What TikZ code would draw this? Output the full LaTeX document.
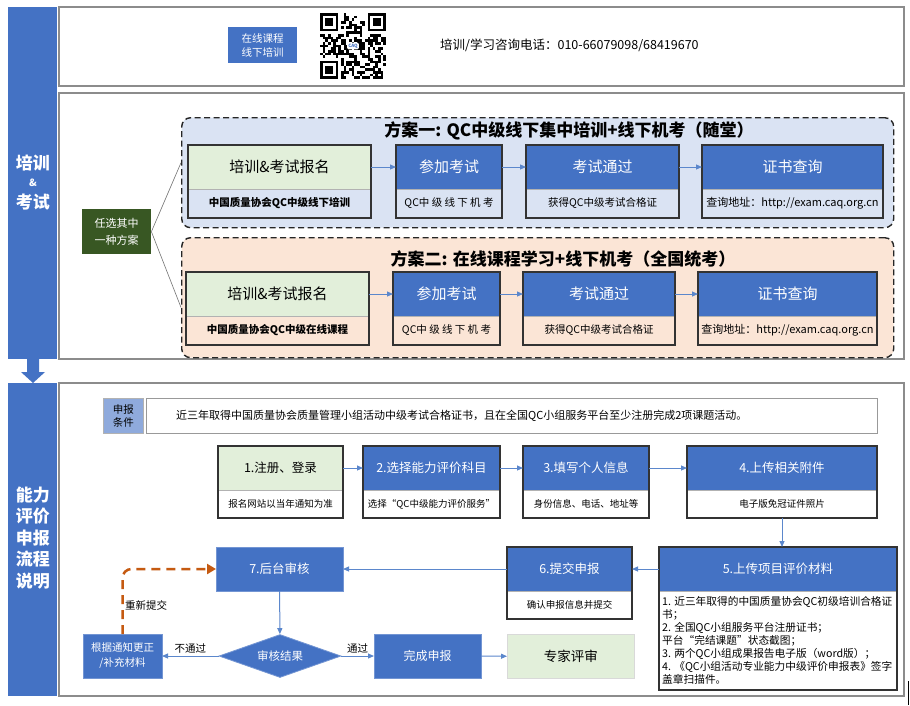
\documentclass[tikz,border=0pt]{standalone}
\usepackage{fontspec}
\setmainfont{Noto Sans CJK SC}
\usetikzlibrary{arrows.meta,shapes.geometric,calc}
\definecolor{qblue}{HTML}{4472C4}
\definecolor{flowblue}{HTML}{5B87CC}
\definecolor{lgreen}{HTML}{E2EFDA}
\definecolor{lblue}{HTML}{DAE3F3}
\definecolor{peach}{HTML}{FBE5D6}
\definecolor{dgreen}{HTML}{385723}
\definecolor{orng}{HTML}{C55A11}
\definecolor{condblue}{HTML}{8FAADC}
\definecolor{panelgray}{HTML}{8C8C8C}
\newcommand\twobox[9]{%
  \node[#6, minimum width=#3, minimum height=#4, anchor=north west] (#1) at #2 {#8};
  \node[#7, minimum width=#3, minimum height=#5, anchor=north west] (#1s) at (#1.south west) {#9};
  \draw[divline] (#1.south west) -- (#1.south east);
  \draw[boxline] (#1.north west) rectangle (#1s.south east);
}
\newcommand\wide[1]{{\addfontfeature{LetterSpace=22}#1}}
\tikzset{
  panel/.style={draw=panelgray, line width=1.2pt, fill=white, inner sep=0pt, outer sep=0pt, anchor=north west},
  bar/.style={fill=qblue, inner sep=0pt, outer sep=0pt, anchor=north west},
  bartxt/.style={text=white, font=\bfseries\fontsize{17}{21.5}\selectfont, align=center, inner sep=0pt},
  scheme/.style={draw=black!85, line width=1.4pt, dash pattern=on 6pt off 3.5pt, rounded corners=9pt, inner sep=0pt, anchor=north west},
  stitle/.style={font=\bfseries\fontsize{17}{19}\selectfont, inner sep=0pt},
  topG/.style={fill=lgreen, text=black, inner sep=0pt, outer sep=0pt, font=\fontsize{15}{17}\selectfont},
  topB/.style={fill=qblue, text=white, inner sep=0pt, outer sep=0pt, font=\fontsize{15}{17}\selectfont},
  subAb/.style={fill=lblue, inner sep=0pt, outer sep=0pt, font=\bfseries\fontsize{10.5}{12}\selectfont},
  subA/.style={fill=lblue, inner sep=0pt, outer sep=0pt, font=\fontsize{10.5}{12}\selectfont},
  subPb/.style={fill=peach, inner sep=0pt, outer sep=0pt, font=\bfseries\fontsize{10.5}{12}\selectfont},
  subP/.style={fill=peach, inner sep=0pt, outer sep=0pt, font=\fontsize{10.5}{12}\selectfont},
  stG/.style={fill=lgreen, text=black, inner sep=0pt, outer sep=0pt, font=\fontsize{12.5}{15}\selectfont},
  stB/.style={fill=qblue, text=white, inner sep=0pt, outer sep=0pt, font=\fontsize{12.5}{15}\selectfont},
  stW/.style={fill=white, text=black, inner sep=0pt, outer sep=0pt, font=\fontsize{9.5}{11}\selectfont},
  divline/.style={draw=black!30, line width=0.6pt},
  boxline/.style={draw=black!80, line width=1.1pt},
  bbox/.style={fill=qblue, draw=qblue!75!white, line width=0.8pt, text=white, inner sep=0pt, outer sep=0pt, anchor=north west},
  flow/.style={draw=flowblue, line width=1pt, -{Triangle[length=6pt,width=5pt]}},
  redo/.style={draw=orng, line width=2.5pt, dash pattern=on 9pt off 6pt, rounded corners=9pt, -{Triangle[length=9pt,width=10pt]}},
  lbl/.style={font=\fontsize{10.5}{12}\selectfont, text=black, inner sep=1pt},
}
\begin{document}
\begin{tikzpicture}[x=1pt,y=-1pt]
\useasboundingbox (0,0) rectangle (910,705);
\fill[white] (0,0) rectangle (910,705);

% ---------- top section ----------
\node[bar, minimum width=49pt, minimum height=352pt] (bar1) at (8,7) {};
\node[bartxt] (bar1a) at (33,163) {培训};
\node[bartxt, font=\bfseries\fontsize{10}{10}\selectfont] (bar1b) at (33,183) {\&};
\node[bartxt] (bar1c) at (33,202) {考试};
\node[panel, minimum width=845pt, minimum height=79pt] (row1) at (59,7) {};
\node[panel, minimum width=845pt, minimum height=266pt] (row2) at (59,93) {};

\node[bar, minimum width=69pt, minimum height=36pt, text=white, align=center, font=\fontsize{10.5}{14}\selectfont] (online) at (228,27) {在线课程\\线下培训};

% QR code
\begin{scope}[shift={(320,13)}]
  \pgfmathsetseed{20231}
  \foreach \i in {0,...,24}{
    \foreach \j in {0,...,24}{
      \pgfmathtruncatemacro\rr{rnd<0.5 ? 1 : 0}
      \pgfmathtruncatemacro\sk{((\i<8)&&(\j<8)) || ((\i>16)&&(\j<8)) || ((\i<8)&&(\j>16)) ? 1 : 0}
      \ifnum\rr=1 \ifnum\sk=0 \fill (\i*2.64,\j*2.64) rectangle ++(2.64,2.64); \fi\fi
    }
  }
  \foreach \a/\b in {0/0,18/0,0/18}{
    \fill (\a*2.64,\b*2.64) rectangle ++(18.48,18.48);
    \fill[white] (\a*2.64+2.64,\b*2.64+2.64) rectangle ++(13.2,13.2);
    \fill (\a*2.64+5.28,\b*2.64+5.28) rectangle ++(7.92,7.92);
  }
\end{scope}
\node[fill=white, rounded corners=1.5pt, inner sep=1.2pt, text=qblue, font=\bfseries\fontsize{4.5}{5}\selectfont] (logo) at (353,46) {CAQ};

\node[anchor=west, inner sep=0pt, font=\fontsize{12.5}{14}\selectfont] (phone) at (440,45) {培训/学习咨询电话：010-66079098/68419670};

% scheme 1
\node[scheme, fill=lblue, minimum width=712pt, minimum height=110pt] (s1) at (181,117) {};
\node[stitle] (s1t) at (569,131) {方案一: QC中级线下集中培训+线下机考（随堂）};
\twobox{a1}{(188,145)}{183pt}{44pt}{29pt}{topG}{subAb}{培训\&考试报名}{中国质量协会QC中级线下培训}
\twobox{b1}{(396,145)}{106pt}{44pt}{29pt}{topB}{subA}{参加考试}{QC\wide{中级线下机考}}
\twobox{c1}{(526,145)}{153pt}{44pt}{29pt}{topB}{subA}{考试通过}{获得QC中级考试合格证}
\twobox{d1}{(702,145)}{181pt}{44pt}{29pt}{topB}{subA}{证书查询}{\fontsize{11}{12}\selectfont 查询地址：http://exam.caq.org.cn}
\draw[flow] (a1) -- (b1);
\draw[flow] (b1) -- (c1);
\draw[flow] (c1) -- (d1);

% scheme 2
\node[scheme, fill=peach, minimum width=712pt, minimum height=120pt] (s2) at (181,237) {};
\node[stitle] (s2t) at (563,259) {方案二: 在线课程学习+线下机考（全国统考）};
\twobox{a2}{(186,272)}{183pt}{44pt}{29pt}{topG}{subPb}{培训\&考试报名}{中国质量协会QC中级在线课程}
\twobox{b2}{(393,272)}{107pt}{44pt}{29pt}{topB}{subP}{参加考试}{QC\wide{中级线下机考}}
\twobox{c2}{(523,272)}{152pt}{44pt}{29pt}{topB}{subP}{考试通过}{获得QC中级考试合格证}
\twobox{d2}{(698,272)}{179pt}{44pt}{29pt}{topB}{subP}{证书查询}{\fontsize{11}{12}\selectfont 查询地址：http://exam.caq.org.cn}
\draw[flow] (a2) -- (b2);
\draw[flow] (b2) -- (c2);
\draw[flow] (c2) -- (d2);

% choose
\node[fill=dgreen, text=white, minimum width=69pt, minimum height=45pt, inner sep=0pt, anchor=north west, align=center, font=\fontsize{11}{17}\selectfont] (choose) at (82,209) {任选其中\\一种方案};
\draw[draw=black!55, line width=0.6pt] (choose.east) -- ($(s1.north west)!0.41!(s1.south west)$);
\draw[draw=black!55, line width=0.6pt] (choose.east) -- ($(s2.north west)!0.58!(s2.south west)$);

% down arrow
\fill[qblue] (27,359) -- (39,359) -- (39,372) -- (45,372) -- (33,383) -- (21,372) -- (27,372) -- cycle;

% ---------- bottom section ----------
\node[bar, minimum width=49pt, minimum height=313pt] (bar2) at (8,383) {};
\node[bartxt] (bar2t) at (33,538) {能力\\评价\\申报\\流程\\说明};
\node[panel, minimum width=845pt, minimum height=313pt] (row3) at (59,383) {};

\node[fill=condblue, draw=black!30, line width=0.6pt, minimum width=40pt, minimum height=35pt, inner sep=0pt, anchor=north west, align=center, font=\fontsize{10.5}{13}\selectfont] (condl) at (103,398) {申报\\条件};
\node[draw=black!40, line width=0.8pt, fill=white, minimum width=731pt, minimum height=35pt, inner sep=0pt, anchor=north west] (condb) at (146,398) {};
\node[anchor=west, inner sep=0pt, font=\fontsize{11}{13}\selectfont] (condt) at (176,415.5) {近三年取得中国质量协会质量管理小组活动中级考试合格证书，且在全国QC小组服务平台至少注册完成2项课题活动。};

\twobox{p1}{(218,446)}{125pt}{44pt}{28pt}{stG}{stW}{1.注册、登录}{报名网站以当年通知为准}
\twobox{p2}{(363,446)}{137pt}{44pt}{28pt}{stB}{stW}{2.选择能力评价科目}{选择“QC中级能力评价服务”}
\twobox{p3}{(523,446)}{126pt}{44pt}{28pt}{stB}{stW}{3.填写个人信息}{身份信息、电话、地址等}
\twobox{p4}{(687,446)}{190pt}{44pt}{28pt}{stB}{stW}{4.上传相关附件}{电子版免冠证件照片}
\twobox{p5}{(659,547)}{238pt}{44pt}{99pt}{stB}{stW}{5.上传项目评价材料}{}
\twobox{p6}{(507,547)}{125pt}{44pt}{28pt}{stB}{stW}{6.提交申报}{确认申报信息并提交}
\node[anchor=north west, align=left, inner sep=0pt, font=\fontsize{10.7}{13}\selectfont] (p5t) at ($(p5s.north west)+(3,5)$) {1. 近三年取得的中国质量协会QC初级培训合格证\\书；\\2. 全国QC小组服务平台注册证书；\\平台“完结课题”状态截图；\\3. 两个QC小组成果报告电子版（word版）；\\4. 《QC小组活动专业能力中级评价申报表》签字\\盖章扫描件。};

\node[bbox, minimum width=127pt, minimum height=44pt, font=\fontsize{12.5}{15}\selectfont] (p7) at (216,547) {7.后台审核};
\node[diamond, fill=qblue, draw=qblue!75!white, line width=0.8pt, text=white, minimum width=122pt, minimum height=43pt, inner sep=0pt, aspect=2.8, font=\fontsize{11.5}{13}\selectfont] (dia) at (280,656) {审核结果};
\node[bbox, minimum width=79pt, minimum height=44pt, align=center, font=\fontsize{10.5}{15}\selectfont] (fix) at (83,634) {根据通知更正\\/补充材料};
\node[bbox, minimum width=107pt, minimum height=44pt, font=\fontsize{12}{14}\selectfont] (done) at (374,634) {完成申报};
\node[fill=lgreen, draw=black!15, line width=0.8pt, minimum width=127pt, minimum height=44pt, inner sep=0pt, anchor=north west, font=\fontsize{13.5}{15}\selectfont] (expert) at (507,634) {专家评审};

\draw[flow] (p1) -- (p2);
\draw[flow] (p2) -- (p3);
\draw[flow] (p3) -- (p4);
\draw[flow] (p4s.south) -- (p4s.south |- p5.north);
\draw[flow] (p5) -- (p6);
\draw[flow] (p6) -- (p7);
\draw[flow] (p7) -- (dia);
\draw[flow] (dia) -- node[lbl, above, yshift=1pt] (nolbl) {不通过} (fix);
\draw[flow] (dia) -- node[lbl, above, yshift=1pt] (oklbl) {通过} (done);
\draw[flow] (done) -- (expert);
\draw[redo] (fix.north) |- (p7.west);
\node[lbl, anchor=west] (redolbl) at (124,605) {重新提交};

\draw[black, line width=1.3pt] (908.5,681) -- (908.5,705);
\end{tikzpicture}
\end{document}
